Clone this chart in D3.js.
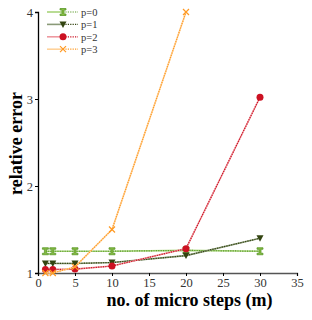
<!DOCTYPE html>
<html>
<head>
<meta charset="utf-8">
<script src="https://cdn.jsdelivr.net/npm/d3@7"></script>
<style>
  body { margin: 0; background: #fff; }
  text { font-family: "Liberation Serif", "DejaVu Serif", serif; }
</style>
</head>
<body>
<div id="chart"></div>
<script>
// data
var steps = [1, 2, 5, 10, 20, 30];
var p0 = [1.25, 1.25, 1.25, 1.25, 1.26, 1.25];
var p1 = [1.11, 1.11, 1.11, 1.12, 1.20, 1.40];
var p2 = [1.04, 1.04, 1.045, 1.08, 1.28, 3.02];
var p3Steps = [1, 2, 5, 10, 20];
var p3 = [1.0, 1.0, 1.07, 1.5, 4.0];
var xTicks = [0, 5, 10, 15, 20, 25, 30, 35];
var yTicks = [1, 2, 3, 4];

var svgWidth = 312, svgHeight = 320;
var margin = { top: 12, right: 15, bottom: 47, left: 38 };
var width = svgWidth - margin.left - margin.right;
var height = svgHeight - margin.top - margin.bottom;

var svg = d3.select("#chart").append("svg")
  .attr("width", svgWidth)
  .attr("height", svgHeight);

var g = svg.append("g")
  .attr("transform", `translate(${margin.left}, ${margin.top})`);

var x = d3.scaleLinear().domain([0, 35]).range([0, width]);
var y = d3.scaleLinear().domain([1, 4]).range([height, 0]);

// axes
var xAxis = g.append("g")
  .attr("transform", `translate(0, ${height})`)
  .call(d3.axisBottom(x).tickValues(xTicks).tickSize(3).tickPadding(2));
var yAxis = g.append("g")
  .call(d3.axisLeft(y).tickValues(yTicks).tickFormat(d3.format("d")).tickSize(3).tickPadding(2));

[xAxis, yAxis].forEach(a => {
  a.select(".domain").attr("stroke", "#000").attr("stroke-width", 1.3);
  a.selectAll("line").attr("stroke", "#000");
  a.selectAll("text").attr("font-size", "12.5px").attr("fill", "#333");
});
xAxis.select(".domain").attr("stroke", "#555");

var series = [
  { name: "p=0", xs: steps, ys: p0, light: "#a8d47a", dark: "#5a9a2a", marker: "hour" },
  { name: "p=1", xs: steps, ys: p1, light: "#8a9a78", dark: "#334411", marker: "tri" },
  { name: "p=2", xs: steps, ys: p2, light: "#ee99a0", dark: "#cc1122", marker: "circle" },
  { name: "p=3", xs: p3Steps, ys: p3, light: "#ffd29a", dark: "#ff9922", marker: "x" }
];

function drawMarker(sel, type, color) {
  if (type === "hour") {
    sel.append("path").attr("d", "M-3,-3.5H3V-2H1L1,2H3V3.5H-3V2H-1V-2H-3Z")
      .attr("fill", "#88bb44").attr("stroke", color).attr("stroke-width", 0.8);
  } else if (type === "tri") {
    sel.append("path").attr("d", "M-3.5,-3H3.5L0,3.5Z").attr("fill", color);
  } else if (type === "circle") {
    sel.append("circle").attr("r", 3.5).attr("fill", color);
  } else {
    sel.append("path").attr("d", "M-3,-3L3,3M-3,3L3,-3")
      .attr("stroke", color).attr("stroke-width", 1.2).attr("fill", "none");
  }
}

var line = d3.line().x(d => x(d[0])).y(d => y(d[1]));

series.forEach(s => {
  var pts = s.xs.map((v, i) => [v, s.ys[i]]);
  g.append("path").datum(pts).attr("d", line)
    .attr("fill", "none").attr("stroke", s.light).attr("stroke-width", 1.6);
  g.append("path").datum(pts).attr("d", line)
    .attr("fill", "none").attr("stroke", s.dark).attr("stroke-width", 1.2)
    .attr("stroke-dasharray", "1.2,1.2");
  g.selectAll(null).data(pts).join("g")
    .attr("transform", d => `translate(${x(d[0])}, ${y(d[1])})`)
    .each(function() { drawMarker(d3.select(this), s.marker, s.dark); });
});

// legend
var legend = svg.append("g").attr("transform", "translate(47, 12)");
series.forEach((s, i) => {
  var row = legend.append("g").attr("transform", `translate(0, ${i * 12.4})`);
  row.append("line").attr("x1", 0).attr("x2", 16).attr("stroke", s.light).attr("stroke-width", 1.6);
  row.append("line").attr("x1", 16).attr("x2", 31).attr("stroke", s.dark).attr("stroke-width", 1.2)
    .attr("stroke-dasharray", "1.2,1.2");
  var m = row.append("g").attr("transform", "translate(16, 0)");
  drawMarker(m, s.marker, s.dark);
  row.append("text").attr("x", 34).attr("y", 4).attr("font-size", "10.5px").attr("fill", "#333").text(s.name);
});

// axis titles
svg.append("text")
  .attr("x", margin.left + width / 2 + 22).attr("y", 306)
  .attr("text-anchor", "middle").attr("font-size", "18px").attr("font-weight", "bold")
  .text("no. of micro steps (m)");
svg.append("text")
  .attr("transform", `translate(22, ${margin.top + height / 2 + 1}) rotate(-90)`)
  .attr("text-anchor", "middle").attr("font-size", "18px").attr("font-weight", "bold")
  .text("relative error");
</script>
</body>
</html>
